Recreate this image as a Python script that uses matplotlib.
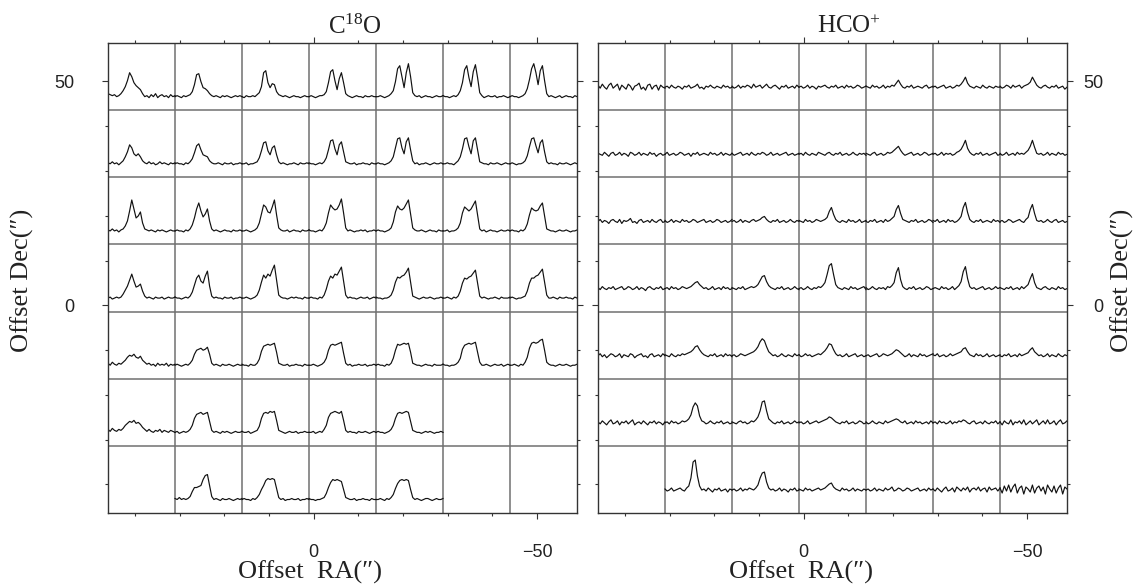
import numpy as np
import matplotlib
matplotlib.use("Agg")
import matplotlib.pyplot as plt

# Spectra, heights in pixels above the baseline,
# 32 channels per map position; None = no spectrum at that position.
c18o_r1 = [
    [3,2,1,2,0,1,3,6,10,16,24,20,14,11,9,7,3,0,1,-1,2,0,3,-1,1,2,0,1,-1,2,0,1],
    [0,1,0,-1,1,0,1,2,5,12,22,23,15,9,8,6,3,1,0,1,0,-1,1,0,1,0,-1,0,1,0,1,0],
    [0,-1,1,0,0,1,0,2,4,10,24,26,14,9,13,12,5,2,1,0,1,0,-1,0,1,0,0,-1,0,1,0,0],
    [0,1,0,-1,0,1,1,2,5,14,25,27,16,7,18,24,14,3,1,0,-1,0,1,0,0,-1,1,0,0,1,0,0],
    [0,0,1,0,-1,0,1,3,6,15,28,31,20,9,24,33,20,4,1,0,1,-1,0,1,0,0,-1,0,1,0,0,1],
    [1,0,0,-1,0,1,0,2,6,14,27,31,19,10,25,32,19,4,1,-1,0,1,0,0,1,-1,0,0,1,0,-1,0],
    [0,1,0,0,-1,0,1,3,8,17,28,33,24,12,26,31,16,3,0,1,0,-1,0,1,-1,0,1,0,0,-1,1,0],
]
c18o_r2 = [
    [1,0,2,0,1,-1,1,3,7,12,19,16,10,8,10,7,3,1,0,2,0,1,-1,0,2,0,1,0,-1,1,0,1],
    [0,1,0,0,-1,1,0,2,5,11,18,20,14,9,8,7,3,1,0,0,1,0,-1,1,0,0,1,-1,0,0,1,0],
    [0,0,1,-1,0,0,1,2,6,13,21,22,13,9,16,18,9,2,0,1,0,-1,0,0,1,0,-1,1,0,0,1,0],
    [1,0,0,-1,0,1,0,2,6,14,23,24,15,9,19,22,12,2,1,0,0,1,-1,0,0,1,0,0,-1,1,0,0],
    [0,1,0,0,-1,0,1,3,7,16,25,26,16,10,22,26,14,3,0,1,-1,0,0,1,0,-1,0,1,0,0,1,0],
    [0,0,1,0,0,-1,1,3,7,15,25,26,17,10,23,26,14,2,1,0,0,-1,1,0,0,1,0,-1,0,1,0,0],
    [0,1,0,-1,0,0,1,3,8,17,25,26,18,11,21,24,12,2,0,1,0,0,-1,1,0,0,1,0,-1,0,1,0],
]
c18o_r3 = [
    [1,0,2,0,1,-1,1,2,5,10,20,31,22,13,15,19,8,2,1,0,1,0,-1,1,0,1,0,-1,0,1,0,0],
    [0,1,0,0,-1,1,0,2,6,13,22,28,20,14,17,22,10,2,0,1,0,-1,0,1,0,0,-1,1,0,0,1,0],
    [0,0,1,0,-1,0,1,3,8,17,26,24,19,18,24,31,16,3,1,0,0,1,-1,0,1,0,0,-1,1,0,0,1],
    [1,0,0,-1,0,1,0,3,8,18,26,23,21,22,26,32,18,3,0,1,0,-1,0,0,1,0,1,-1,0,0,1,0],
    [0,1,0,0,-1,0,1,3,9,19,25,22,21,23,27,31,17,3,1,0,0,1,0,-1,0,1,0,0,-1,1,0,0],
    [0,0,1,-1,0,0,1,3,8,18,24,22,20,22,26,30,16,2,0,1,-1,0,1,0,0,-1,0,1,0,0,1,0],
    [0,1,0,0,-1,1,0,2,7,16,23,21,20,21,25,28,15,2,1,0,0,-1,0,1,0,0,1,0,-1,0,0,1],
]
c18o_r4 = [
    [0,1,-1,0,1,0,1,4,8,12,18,24,17,11,12,14,7,2,0,1,0,-1,1,0,0,1,-1,0,1,0,0,1],
    [1,0,0,-1,0,1,0,2,6,13,20,23,17,15,22,27,12,2,0,1,0,0,-1,1,0,0,1,-1,0,0,1,0],
    [0,0,1,0,-1,0,1,3,8,16,23,20,24,22,28,33,18,3,1,0,0,-1,0,1,0,1,0,0,-1,1,0,0],
    [0,1,0,0,-1,1,0,3,9,17,22,20,24,23,27,31,17,3,0,1,0,0,-1,0,1,0,0,1,-1,0,1,0],
    [1,0,0,-1,0,0,1,3,8,16,21,20,22,23,26,30,16,2,1,0,-1,0,1,0,0,1,0,-1,0,0,1,0],
    [0,0,1,0,-1,1,0,2,7,15,20,19,21,22,25,28,15,2,0,1,0,-1,0,0,1,0,-1,1,0,0,0,1],
    [0,1,0,-1,0,0,1,2,7,15,20,20,22,23,26,29,16,3,0,0,1,0,-1,1,0,0,1,0,0,-1,1,0],
]
c18o_r5 = [
    [2,0,3,1,0,2,1,3,5,8,10,9,11,8,7,9,5,3,1,2,0,1,-1,2,0,1,0,2,-1,1,0,1],
    [0,1,0,-1,0,1,0,2,5,11,15,16,17,15,16,18,11,2,0,1,0,-1,1,0,0,1,0,-1,0,1,0,0],
    [1,0,0,-1,1,0,0,2,6,14,19,20,21,20,21,22,13,2,1,0,0,1,-1,0,0,1,0,0,-1,1,0,0],
    [0,0,1,0,-1,0,1,3,7,15,20,21,20,21,22,23,12,2,0,1,-1,0,0,1,0,0,1,-1,0,0,1,0],
    [0,1,0,0,-1,1,0,2,7,15,21,20,21,22,21,22,13,2,1,0,0,-1,0,1,0,0,-1,1,0,0,0,1],
    [1,0,0,-1,0,0,1,3,7,16,20,21,22,21,22,23,13,3,0,0,1,0,-1,0,1,0,0,1,-1,0,1,0],
    [0,0,1,0,-1,1,0,3,8,17,22,23,22,23,25,26,15,3,1,0,0,-1,0,1,0,0,1,0,-1,0,0,1],
]
c18o_r6 = [
    [3,1,4,2,1,3,2,4,7,9,11,10,12,9,10,8,5,3,1,3,1,0,2,1,3,0,2,1,0,2,1,0],
    [0,1,-1,0,1,0,1,3,7,14,18,19,20,18,19,20,11,2,0,1,0,-1,1,0,1,0,-1,0,1,0,0,1],
    [1,0,0,1,-1,0,1,2,6,14,19,20,19,21,20,21,12,2,1,0,-1,0,1,0,0,1,-1,0,0,1,0,0],
    [0,0,1,-1,0,1,0,3,7,15,19,20,21,20,19,21,12,2,0,1,0,0,-1,1,0,0,1,0,-1,0,1,0],
    [0,1,0,0,-1,0,1,3,7,14,19,20,19,20,21,20,11,2,1,0,0,-1,0,1,0,1,0,-1,0,0,1,0],
    None,
    None,
]
c18o_r7 = [
    None,
    [1,0,2,0,1,0,1,3,8,12,12,13,14,20,24,25,14,3,0,1,0,-1,1,0,0,1,0,-1,0,1,0,1],
    [0,1,0,0,-1,1,0,2,5,10,14,19,21,20,21,20,11,2,0,1,-1,0,0,1,0,0,1,-1,0,0,1,0],
    [1,0,0,-1,0,0,1,2,6,12,17,20,19,20,19,18,10,2,1,0,0,1,-1,0,0,1,0,0,-1,1,0,0],
    [0,0,1,0,-1,1,0,2,5,11,16,19,20,19,20,19,10,2,0,1,0,-1,0,1,1,0,-1,0,1,0,0,1],
    None,
    None,
]

hco_r1 = [
    [2,-1,3,0,-2,2,4,-1,1,3,-3,2,0,-2,3,1,-3,1,2,4,-2,0,-3,2,3,-2,1,2,-3,2,0,-1],
    [0,1,-1,2,0,-1,1,0,-2,1,0,2,-1,0,1,3,-1,0,-2,1,0,2,0,-1,1,0,-1,2,0,1,-1,0],
    [1,-1,0,2,-1,1,0,2,1,-1,3,0,1,2,-1,1,3,0,-1,1,2,0,-2,1,0,2,-1,0,1,-1,2,0],
    [0,1,-1,0,2,-1,1,0,-2,1,0,1,2,0,-1,1,0,2,-1,0,1,-1,2,0,1,-1,0,2,1,-1,0,1],
    [1,0,-1,2,0,1,-1,0,2,-1,1,0,2,1,4,7,3,0,-1,1,0,2,-1,0,1,0,-1,1,2,-1,0,1],
    [0,1,-1,0,1,2,-1,0,1,-1,0,2,1,3,6,10,4,1,0,-1,1,0,-1,2,0,-1,1,0,-1,1,0,0],
    [1,-1,0,2,1,-1,2,0,1,2,-1,1,2,3,5,10,6,2,0,-1,1,2,0,-1,1,0,2,-1,0,1,-2,0],
]
hco_r2 = [
    [1,0,-1,2,0,-2,1,2,-1,0,2,-1,1,0,-2,2,1,-1,0,2,-1,1,0,-1,2,0,1,-2,0,1,-1,0],
    [0,2,-1,0,1,-1,0,2,1,-1,0,1,-2,1,0,2,-1,0,1,0,-1,2,0,1,-1,0,2,-1,1,0,-1,1],
    [1,-1,0,1,2,-1,0,1,-1,2,0,-1,1,0,2,1,-1,0,2,-1,0,1,-1,0,1,2,-1,0,1,-1,0,1],
    [0,1,-1,2,0,-1,1,0,-1,2,1,0,-1,1,2,0,-1,1,0,2,-1,0,1,-1,0,2,0,-1,1,0,1,-1],
    [1,0,-1,1,2,-1,0,1,-1,0,2,1,2,4,6,8,4,1,-1,0,1,2,-1,0,1,-1,0,2,1,-1,0,1],
    [0,1,-1,0,2,-1,1,0,1,-1,0,2,3,5,9,14,6,2,0,-1,1,0,2,-1,0,1,-1,0,1,2,-1,0],
    [1,-1,0,2,-1,0,1,-1,2,0,1,0,2,4,8,14,7,1,0,1,-1,0,2,-1,1,0,-1,2,0,1,-1,0],
]
hco_r3 = [
    [0,2,-1,1,0,-2,1,2,0,-1,2,-2,1,0,1,3,-1,0,-2,1,2,-1,0,1,-1,2,0,-1,1,2,-1,0],
    [1,-1,0,2,-1,1,0,-1,2,0,1,-1,0,2,1,-1,0,1,2,-1,0,1,-1,0,2,1,-1,0,1,-1,0,2],
    [0,1,-1,0,2,-1,1,0,-1,1,2,0,1,2,4,5,2,0,-1,1,0,2,-1,0,1,-1,0,2,0,-1,1,0],
    [1,0,-1,2,0,1,-1,0,2,1,0,1,2,4,10,14,7,2,0,-1,1,0,-1,2,0,1,-1,0,2,-1,0,1],
    [0,-1,1,0,2,-1,0,1,-1,2,0,1,3,5,12,16,8,2,1,0,-1,1,0,2,-1,0,1,-1,0,2,1,-1],
    [1,0,2,-1,0,1,-1,2,0,1,-1,0,2,5,14,19,9,2,0,-1,1,0,2,-1,0,1,0,-1,2,0,1,-1],
    [0,1,-1,0,2,1,-1,0,1,2,0,-1,2,4,12,17,8,1,0,1,-1,0,2,0,-1,1,2,-1,0,1,-1,0],
]
hco_r4 = [
    [1,-1,2,0,-1,1,0,2,-1,0,1,2,-1,0,2,1,-1,0,2,-1,1,0,-2,1,2,0,-1,1,0,2,-1,0],
    [0,1,-1,2,0,1,-1,0,2,1,0,1,2,4,6,7,4,2,0,1,-1,0,2,-1,0,1,-1,2,0,1,-1,0],
    [1,0,-1,1,0,2,-1,0,1,2,1,2,4,8,12,13,7,3,1,0,-1,1,0,2,-1,0,1,-1,0,2,0,-1],
    [0,1,-1,0,2,0,-1,1,0,2,1,3,6,14,23,25,14,4,1,0,-1,1,0,-1,2,0,1,-1,0,1,2,-1],
    [1,-1,0,2,0,-1,1,0,1,-1,2,1,3,6,16,21,9,2,0,-1,1,0,2,-1,0,1,-1,0,2,1,-1,0],
    [0,1,0,-1,2,0,1,-1,0,2,-1,1,3,7,17,22,10,2,0,1,-1,0,1,2,-1,0,1,-1,0,2,0,1],
    [1,0,-1,1,0,2,-1,0,1,-1,2,0,2,4,10,15,6,1,0,-1,1,2,0,-1,1,0,-1,2,0,1,-1,0],
]
hco_r5 = [
    [0,2,-1,1,-2,0,2,1,-1,0,2,-2,1,0,-1,2,1,-2,0,1,2,-1,0,-2,1,2,-1,0,1,-1,2,0],
    [1,0,-1,2,0,-1,1,0,2,1,2,3,4,6,9,10,6,3,1,0,-1,1,0,2,-1,0,1,-1,2,0,1,-1],
    [0,1,-1,0,2,1,0,1,2,3,4,6,9,14,17,15,9,4,2,0,1,-1,0,2,0,-1,1,0,-1,2,0,1],
    [1,-1,0,2,0,1,-1,0,1,2,1,3,5,8,12,11,6,2,0,1,-1,0,2,-1,0,1,2,-1,0,1,-1,0],
    [0,1,-1,0,1,2,-1,0,2,1,0,1,2,4,6,5,3,1,-1,0,2,-1,1,0,-1,2,0,1,-1,0,1,2],
    [1,0,2,-1,0,1,-1,0,2,0,1,2,3,4,7,8,4,1,0,-1,2,0,1,-1,0,2,-1,0,1,-1,0,1],
    [0,-1,1,0,2,-1,0,1,-1,2,0,1,2,3,6,8,4,2,0,1,-1,0,2,-1,1,0,-1,2,0,-1,1,0],
]
hco_r6 = [
    [1,-1,2,0,-2,1,3,-1,0,2,-2,1,0,2,-1,1,3,-2,0,1,-1,2,0,-2,1,0,2,-1,1,0,-2,1],
    [0,1,-1,2,0,1,-1,0,2,1,2,4,8,16,20,17,7,2,1,-1,0,2,0,-1,1,0,2,-1,0,1,-1,0],
    [1,0,-1,1,2,0,1,-1,0,2,1,3,6,12,21,22,12,4,2,0,-1,1,0,2,-1,0,1,-1,0,2,0,1],
    [0,1,-1,0,2,-1,0,1,2,0,1,2,3,4,6,5,3,1,0,-1,1,0,2,-1,0,1,-1,0,2,1,-1,0],
    [1,-1,0,2,0,-1,1,0,-1,2,0,1,2,3,4,3,1,0,2,-1,0,1,-1,2,0,1,-1,0,1,-1,2,0],
    [0,1,-1,2,0,1,-1,0,2,-1,1,0,2,1,3,2,0,-1,1,2,-1,0,1,-1,2,0,-1,1,0,2,-1,1],
    [1,-2,2,0,-1,3,-2,1,0,2,-1,3,-2,0,2,-1,1,3,-2,0,2,-1,3,-1,0,2,-2,1,3,-1,0,2],
]
hco_r7 = [
    None,
    [1,-1,0,2,-1,0,1,2,0,-1,2,4,12,28,30,14,4,0,1,-1,2,0,-2,1,0,2,-1,0,1,-2,1,0],
    [0,1,-1,0,2,-1,1,0,2,1,0,2,5,12,17,18,8,2,0,1,-1,0,2,-1,1,0,-2,1,0,2,-1,0],
    [1,0,-1,2,0,1,-1,0,1,2,0,1,2,4,6,7,3,1,0,-1,2,0,1,-1,0,2,-1,1,0,-1,1,0],
    [0,1,-1,0,2,-1,1,0,-1,2,0,1,3,-1,0,2,1,-1,0,2,1,-1,0,1,2,-1,0,1,-1,2,0,1],
    [1,-1,2,0,-2,1,3,-1,0,2,-2,3,1,-1,2,0,3,-2,1,2,0,3,-1,1,2,-2,3,0,1,2,-1,2],
    [2,-3,4,-1,5,-2,3,6,-3,2,4,-4,3,1,-2,5,-3,2,4,-1,3,-4,5,1,-2,4,-3,2,5,-4,3,1],
]

c18o_rows = [c18o_r1, c18o_r2, c18o_r3, c18o_r4, c18o_r5, c18o_r6, c18o_r7]
hco_rows = [hco_r1, hco_r2, hco_r3, hco_r4, hco_r5, hco_r6, hco_r7]

# map geometry in arcsec (4.48 px per arcsec in the figure)
step = 15.0
x_left = 46.05
y_top = 58.6
px = 1 / 4.48

serif = "Liberation Serif"
plt.rcParams["mathtext.fontset"] = "custom"
plt.rcParams["mathtext.rm"] = serif
plt.rcParams["mathtext.it"] = serif + ":italic"

fig = plt.figure(figsize=(11.38, 5.86), dpi=100)
axL = fig.add_axes([108 / 1138, 73 / 586, 469 / 1138, 470 / 586])
axR = fig.add_axes([598 / 1138, 73 / 586, 469 / 1138, 470 / 586])


def draw_panel(ax, rows, base_px):
    ax.set_xlim(x_left, x_left - 7 * step)
    ax.set_ylim(y_top - 7 * step, y_top)
    for k in range(1, 7):
        ax.axvline(x_left - k * step, color="#707070", lw=1.1, zorder=1)
        ax.axhline(y_top - k * step, color="#707070", lw=1.1, zorder=1)
    for r, row in enumerate(rows):
        y0 = y_top - (r + 1) * step + base_px * px
        for c, spec in enumerate(row):
            if spec is None:
                continue
            v = np.array(spec, dtype=float)
            x = x_left - c * step - np.linspace(0, step, len(v))
            ax.plot(x, y0 + v * px, color="#111111", lw=0.85, zorder=2)
    ax.set_xticks([0, -50])
    ax.set_xticks(np.arange(40, -60, -10), minor=True)
    ax.set_yticks([50, 0])
    ax.set_yticks(np.arange(50, -50, -10), minor=True)
    ax.tick_params(which="both", direction="out", top=True, bottom=True,
                   left=True, right=True, width=0.8, color="#333333",
                   labelsize=13, labelcolor="#222222")
    ax.tick_params(which="major", length=4.5)
    ax.tick_params(which="minor", length=2.2)
    ax.tick_params(axis="x", pad=17.5)
    for s in ax.spines.values():
        s.set_color("#333333")
        s.set_linewidth(1.0)


draw_panel(axL, c18o_rows, 13.5)
draw_panel(axR, hco_rows, 23.0)
axL.tick_params(axis="y", labelleft=True, labelright=False, pad=20)
axR.tick_params(axis="y", labelleft=False, labelright=True, pad=21.4)
for ax in (axL, axR):
    for t in ax.get_xticklabels() + ax.get_yticklabels():
        t.set_fontfamily("Liberation Sans")
for t in axR.get_yticklabels():
    t.set_horizontalalignment("right")

lab = dict(family=serif, size=19, color="#222222", ha="center", va="center")
ttl = dict(family=serif, size=18, color="#222222", ha="center", va="center")
fig.text(355 / 1138, 1 - 27 / 586, "C$^{18}$O", **ttl)
fig.text(849 / 1138, 1 - 27 / 586, "HCO$^{+}$", **ttl)
low = dict(lab, va="baseline")
fig.text(310 / 1138, 1 - 579 / 586, "Offset  RA(\u2033)", **low)
fig.text(801 / 1138, 1 - 579 / 586, "Offset  RA(\u2033)", **low)
fig.text(22 / 1138, 1 - 280 / 586, "Offset Dec(\u2033)", rotation=90, **lab)
fig.text(1122 / 1138, 1 - 280 / 586, "Offset Dec(\u2033)", rotation=90, **lab)

fig.savefig("out.png", dpi=100, facecolor="white")
